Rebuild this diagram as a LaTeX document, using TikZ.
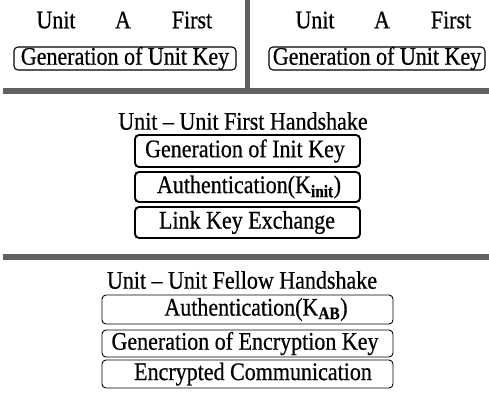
\documentclass[tikz,border=0pt]{standalone}
\usepackage{fontspec}
\setmainfont[FakeBold=0.6]{Liberation Serif}
\usepackage{graphicx}
\newcommand{\tx}[1]{\scalebox{1}[1.15]{#1}}
\begin{document}
\begin{tikzpicture}[x=1pt,y=-1pt,
  lbl/.style={inner sep=0pt, font=\fontsize{22}{24}\selectfont},
  topbox/.style={draw, line width=1.1pt, rounded corners=4pt, inner sep=0pt},
  hsbox/.style={draw, line width=1.9pt, rounded corners=4pt, inner sep=0pt},
  fbox/.style={draw, line width=0.9pt, rounded corners=4pt, inner sep=0pt},
  sepbar/.style={fill=black!62, draw=none}]
\useasboundingbox (0,0) rectangle (489,397);
% separators
\fill[sepbar] (244.5,0) rectangle (250,91);
\fill[sepbar] (3,88) rectangle (489,94);
\fill[sepbar] (3,254) rectangle (489,260);
% top row
\node[lbl] (u1) at (56,20) {\tx{Unit}};
\node[lbl] (a1) at (123,20) {\tx{A}};
\node[lbl] (f1) at (192,20) {\tx{First}};
\node[lbl] (u2) at (315,20) {\tx{Unit}};
\node[lbl] (a2) at (382,20) {\tx{A}};
\node[lbl] (f2) at (451,20) {\tx{First}};
\draw[topbox] (14,47) rectangle (236,70);
\node[lbl] (g1) at (125,58.5) {\tx{Generation of Unit Key}};
\draw[topbox] (269,47) rectangle (485,70);
\node[lbl] (g2) at (377,58.5) {\tx{Generation of Unit Key}};
% first handshake
\node[lbl] (t1) at (243,121) {\tx{Unit -- Unit First Handshake}};
\draw[hsbox] (135,135) rectangle (360,167);
\node[lbl] (h1) at (245,151) {\tx{Generation of Init Key}};
\draw[hsbox] (135,172) rectangle (360,202);
\node[lbl] (h2) at (249,187) {\tx{Authentication(K\textsubscript{\textbf{init}})}};
\draw[hsbox] (135,207) rectangle (360,238);
\node[lbl] (h3) at (247,222.5) {\tx{Link Key Exchange}};
% fellow handshake
\node[lbl] (t2) at (242,280) {\tx{Unit -- Unit Fellow Handshake}};
\draw[fbox] (102,295) rectangle (393,324);
\node[lbl] (e1) at (256,309.5) {\tx{Authentication(K\textsubscript{\textbf{AB}})}};
\draw[fbox] (102,330) rectangle (393,357);
\node[lbl] (e2) at (245,343.5) {\tx{Generation of Encryption Key}};
\draw[fbox] (102,360) rectangle (393,388);
\node[lbl] (e3) at (253,374) {\tx{Encrypted Communication}};
\end{tikzpicture}
\end{document}
